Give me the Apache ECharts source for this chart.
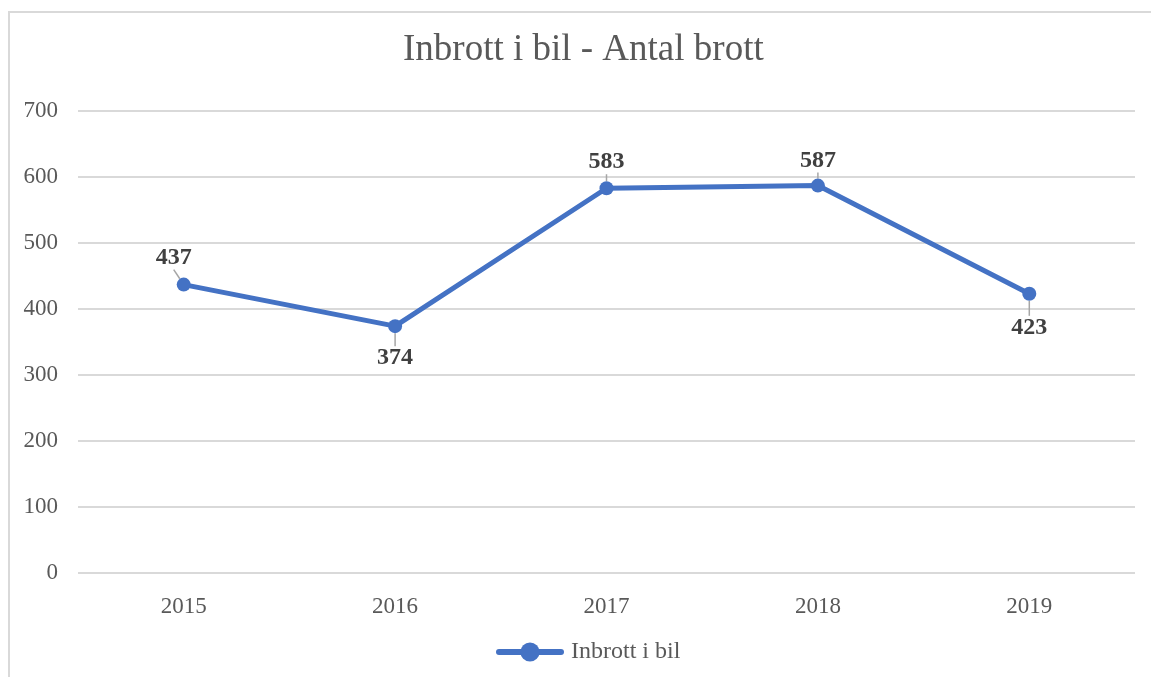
<!DOCTYPE html>
<html>
<head>
<meta charset="utf-8">
<script src="https://cdn.jsdelivr.net/npm/echarts@6/dist/echarts.min.js"></script>
<style>
	html, body { margin: 0; padding: 0; background: #fff; }
	#chart { width: 1151px; height: 677px; }
</style>
</head>
<body>
<div id="chart"></div>
<script>
const years = ['2015', '2016', '2017', '2018', '2019']
const brott = [437, 374, 583, 587, 423]
const seriesName = 'Inbrott i bil'

// label nudges so the leader lines look like the original
const labelShift = [[-10, -27], [0, 32], [0, -26], [0, -25], [0, 34]]

const serif = '"Liberation Serif", "DejaVu Serif", serif'
const grey = '#595959'

const chart = echarts.init(document.getElementById('chart'))
chart.setOption({
	animation: false,
	title: {
		text: 'Inbrott i bil - Antal brott',
		left: 398,
		top: 27,
		textStyle: { fontFamily: serif, fontSize: 37, fontWeight: 'normal', color: grey }
	},
	graphic: [{
		type: 'polyline',
		shape: { points: [[9, 677], [9, 12], [1151, 12]] },
		style: { stroke: '#d9d9d9', lineWidth: 2, fill: null },
		silent: true
	}],
	grid: { left: 78, right: 16, top: 111, bottom: 104 },
	legend: {
		bottom: 8,
		left: 491,
		itemWidth: 62,
		itemHeight: 24,
		textStyle: { fontFamily: serif, fontSize: 24, color: grey, padding: [0, 0, 0, 5] },
		lineStyle: { width: 6 },
		data: [seriesName]
	},
	xAxis: {
		type: 'category',
		data: years,
		boundaryGap: true,
		axisLine: { show: false },
		axisTick: { show: false },
		axisLabel: { fontFamily: serif, fontSize: 23, color: grey, margin: 22 }
	},
	yAxis: {
		type: 'value',
		min: 0,
		max: 700,
		interval: 100,
		axisLine: { show: false },
		axisTick: { show: false },
		axisLabel: { fontFamily: serif, fontSize: 23, color: grey, margin: 20 },
		splitLine: { lineStyle: { color: '#d9d9d9', width: 2 } }
	},
	series: [{
		name: seriesName,
		type: 'line',
		data: brott,
		symbol: 'circle',
		symbolSize: 14,
		itemStyle: { color: '#4472c4' },
		lineStyle: { color: '#4472c4', width: 5, cap: 'round' },
		label: {
			show: true,
			position: 'inside',
			fontFamily: serif,
			fontSize: 24,
			fontWeight: 'bold',
			color: '#404040'
		},
		labelLine: { show: true, lineStyle: { color: '#a6a6a6', width: 1.5 } },
		labelLayout: p => ({ dx: labelShift[p.dataIndex][0], dy: labelShift[p.dataIndex][1] })
	}]
})
</script>
</body>
</html>
